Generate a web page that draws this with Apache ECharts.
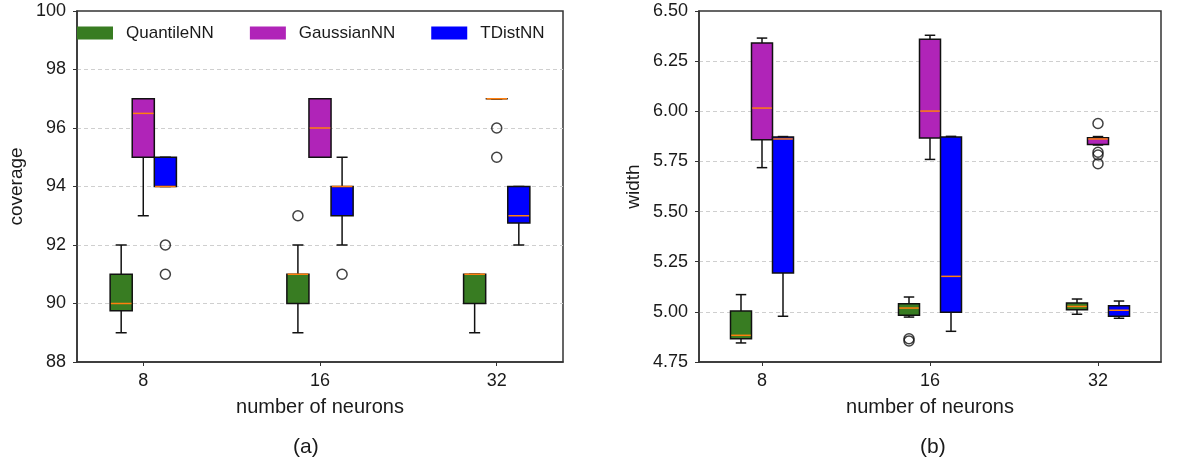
<!DOCTYPE html>
<html>
<head>
<meta charset="utf-8">
<script src="https://cdn.jsdelivr.net/npm/echarts@6/dist/echarts.min.js"></script>
<style>html,body{margin:0;padding:0;background:#fff;}#c{width:1188px;height:464px;}</style>
</head>
<body>
<div id="c"></div>
<script>
// ---------- data ----------
const categories = ['8', '16', '32'];
const seriesNames = ['QuantileNN', 'GaussianNN', 'TDistNN'];
// each box: [whiskerLow, Q1, median, Q3, whiskerHigh]
const coverageQuantile = [[89, 89.75, 90, 91, 92], [89, 90, 91, 91, 92], [89, 90, 91, 91, 91]];
const coverageGaussian = [[93, 95, 96.5, 97, 97], [95, 95, 96, 97, 97], [97, 97, 97, 97, 97]];
const coverageTDist = [[94, 94, 94, 95, 95], [92, 93, 94, 94, 95], [92, 92.75, 93, 94, 94]];
// outliers: per category
const coverageQuantileOut = [[], [93], []];
const coverageGaussianOut = [[], [], [96, 95]];
const coverageTDistOut = [[92, 91], [91], []];

const widthQuantile = [[4.845, 4.866, 4.883, 5.004, 5.086], [4.974, 4.983, 5.019, 5.041, 5.074], [4.988, 5.011, 5.027, 5.044, 5.064]];
const widthGaussian = [[5.719, 5.858, 6.016, 6.340, 6.365], [5.760, 5.867, 6.001, 6.359, 6.379], [5.832, 5.835, 5.862, 5.868, 5.874]];
const widthTDist = [[4.978, 5.194, 5.862, 5.872, 5.874], [4.903, 4.998, 5.177, 5.872, 5.875], [4.968, 4.978, 5.008, 5.031, 5.054]];
const widthQuantileOut = [[], [4.866, 4.855], []];
const widthGaussianOut = [[], [], [5.939, 5.796, 5.782, 5.739]];
const widthTDistOut = [[], [], []];

const coverageTicks = [88, 90, 92, 94, 96, 98, 100];
const widthTicks = [4.75, 5.00, 5.25, 5.50, 5.75, 6.00, 6.25, 6.50];

// ---------- style ----------
const colors = ['#387c22', '#b024b8', '#0000ff'];
const offsets = [-0.125, 0, 0.125];
const boxW = 0.125;
const FONT = 'Liberation Sans, Arial, sans-serif';
const TXT = '#1a1a1a';

function boxData(arr, k) {
  return arr.map((b, i) => [i + 1 + offsets[k]].concat(b));
}
function outData(arr, k) {
  const res = [];
  arr.forEach((vals, i) => vals.forEach(v => res.push([i + 1 + offsets[k], v])));
  return res;
}
function renderBox(params, api) {
  const x = api.value(0);
  const low = api.coord([x, api.value(1)]);
  const q1 = api.coord([x, api.value(2)]);
  const med = api.coord([x, api.value(3)]);
  const q3 = api.coord([x, api.value(4)]);
  const high = api.coord([x, api.value(5)]);
  const w = api.size([boxW, 0])[0];
  const cx = low[0];
  const fill = api.visual('color');
  const ln = {stroke: '#111', lineWidth: 1.5};
  return {
    type: 'group',
    children: [
      {type: 'line', shape: {x1: cx, y1: q1[1], x2: cx, y2: low[1]}, style: ln},
      {type: 'line', shape: {x1: cx, y1: q3[1], x2: cx, y2: high[1]}, style: ln},
      {type: 'line', shape: {x1: cx - w / 4, y1: low[1], x2: cx + w / 4, y2: low[1]}, style: ln},
      {type: 'line', shape: {x1: cx - w / 4, y1: high[1], x2: cx + w / 4, y2: high[1]}, style: ln},
      {type: 'rect', shape: {x: cx - w / 2, y: q3[1], width: w, height: q1[1] - q3[1]}, style: {fill: fill, stroke: '#111', lineWidth: 1.5}},
      {type: 'line', shape: {x1: cx - w / 2 + 0.75, y1: med[1], x2: cx + w / 2 - 0.75, y2: med[1]}, style: {stroke: '#ff7f0e', lineWidth: 1.5}}
    ]
  };
}

const grids = [
  {left: 77, top: 11, width: 486, height: 351},
  {left: 699, top: 11, width: 462, height: 351}
];

function xAxis(gi) {
  return {
    type: 'value', gridIndex: gi, min: 0.625, max: 3.375,
    name: 'number of neurons', nameLocation: 'middle', nameGap: 35,
    nameTextStyle: {fontFamily: FONT, fontSize: 20, color: TXT},
    axisLine: {show: true, lineStyle: {color: '#333', width: 1.5}},
    axisTick: {show: true, length: 4, customValues: [1, 2, 3], lineStyle: {color: '#333'}},
    axisLabel: {customValues: [1, 2, 3], formatter: v => categories[Math.round(v) - 1], margin: 10,
      fontFamily: FONT, fontSize: 18, color: TXT},
    splitLine: {show: false}
  };
}
function yAxis(gi, ticks, interval, name, gap, dec) {
  return {
    type: 'value', gridIndex: gi, min: ticks[0], max: ticks[ticks.length - 1], interval: interval,
    name: name, nameLocation: 'middle', nameGap: gap,
    nameTextStyle: {fontFamily: FONT, fontSize: 19, color: TXT},
    axisLine: {show: true, lineStyle: {color: '#333', width: 1.5}},
    axisTick: {show: true, length: 4, lineStyle: {color: '#333'}},
    axisLabel: {margin: 11, fontFamily: FONT, fontSize: 18, color: TXT, formatter: v => v.toFixed(dec)},
    splitLine: {show: true, showMinLine: false, showMaxLine: false, lineStyle: {color: '#cfcfcf', type: [4, 3], width: 1}}
  };
}

const boxSets = [
  [coverageQuantile, coverageGaussian, coverageTDist],
  [widthQuantile, widthGaussian, widthTDist]
];
const outSets = [
  [coverageQuantileOut, coverageGaussianOut, coverageTDistOut],
  [widthQuantileOut, widthGaussianOut, widthTDistOut]
];

const series = [];
for (let g = 0; g < 2; g++) {
  for (let k = 0; k < 3; k++) {
    series.push({
      type: 'custom', name: seriesNames[k], xAxisIndex: g, yAxisIndex: g,
      itemStyle: {color: colors[k]},
      renderItem: renderBox,
      encode: {x: 0, y: [1, 2, 3, 4, 5]},
      data: boxData(boxSets[g][k], k),
      z: 2
    });
  }
  for (let k = 0; k < 3; k++) {
    series.push({
      type: 'scatter', xAxisIndex: g, yAxisIndex: g,
      symbol: 'circle', symbolSize: 10,
      itemStyle: {color: 'rgba(255,255,255,0)', borderColor: '#111', borderWidth: 1.5},
      data: outData(outSets[g][k], k),
      z: 3, silent: true
    });
  }
}

const chart = echarts.init(document.getElementById('c'));
chart.setOption({
  animation: false,
  backgroundColor: '#fff',
  grid: grids.map(g => Object.assign({show: true, borderColor: '#333', borderWidth: 1.5, backgroundColor: 'transparent'}, g)),
  xAxis: [xAxis(0), xAxis(1)],
  yAxis: [yAxis(0, coverageTicks, 2, 'coverage', 51, 0), yAxis(1, widthTicks, 0.25, 'width', 56, 2)],
  legend: {
    data: seriesNames, left: 77, top: 23, padding: 0, itemGap: 36,
    itemWidth: 36, itemHeight: 13, icon: 'rect',
    textStyle: {fontFamily: FONT, fontSize: 17, color: TXT, padding: [0, 0, 0, 8], lineHeight: 20}
  },
  graphic: [
    {type: 'text', left: 293, top: 437, style: {text: '(a)', font: '21px ' + FONT, fill: TXT}},
    {type: 'text', left: 920, top: 437, style: {text: '(b)', font: '21px ' + FONT, fill: TXT}}
  ],
  series: series
});
</script>
</body>
</html>
